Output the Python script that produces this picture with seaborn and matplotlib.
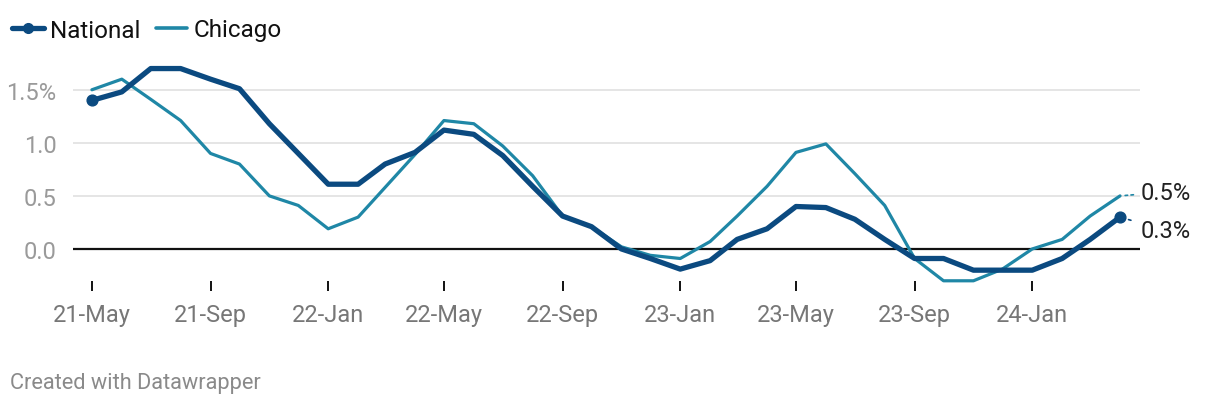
import matplotlib
matplotlib.use("Agg")
import matplotlib.pyplot as plt
import matplotlib.dates as mdates
from matplotlib.lines import Line2D
import seaborn as sns
import pandas as pd
import numpy as np

# monthly change, May 2021 .. Apr 2024
months = pd.date_range("2021-05-01", periods=36, freq="MS")
national = [1.40, 1.48, 1.70, 1.70, 1.60, 1.51, 1.18, 0.90, 0.61, 0.61, 0.80, 0.91,
            1.12, 1.08, 0.88, 0.59, 0.31, 0.21, 0.00, -0.09, -0.19, -0.11, 0.09, 0.19,
            0.40, 0.39, 0.28, 0.09, -0.09, -0.09, -0.20, -0.20, -0.20, -0.09, 0.09, 0.30]
chicago = [1.50, 1.60, 1.41, 1.21, 0.90, 0.80, 0.50, 0.41, 0.19, 0.30, 0.58, 0.89,
           1.21, 1.18, 0.97, 0.69, 0.31, 0.21, 0.02, -0.06, -0.09, 0.07, 0.31, 0.59,
           0.91, 0.99, 0.71, 0.41, -0.09, -0.30, -0.30, -0.19, 0.00, 0.09, 0.31, 0.50]
tick_dates = pd.date_range("2021-05-01", "2024-01-01", freq="4MS")
ytick_vals = [0.0, 0.5, 1.0, 1.5]
ytick_labels = ["0.0", "0.5", "1.0", "1.5%"]

col_nat = "#0b4a80"
col_chi = "#1f87a6"

df = pd.concat([
    pd.DataFrame({"month": months, "value": chicago, "series": "Chicago"}),
    pd.DataFrame({"month": months, "value": national, "series": "National"}),
])

sns.set_style("white")
plt.rcParams["font.family"] = ["Roboto", "DejaVu Sans"]

fig = plt.figure(figsize=(12.2, 4.1), dpi=100)
ax = fig.add_axes([73 / 1220, 1 - 282 / 410, (1140 - 73) / 1220, (282 - 60) / 410])

sns.lineplot(data=df, x="month", y="value", hue="series", size="series",
             palette={"National": col_nat, "Chicago": col_chi},
             sizes={"National": 3.8, "Chicago": 2.3},
             hue_order=["Chicago", "National"], legend=False, ax=ax,
             solid_capstyle="round", solid_joinstyle="round", clip_on=False)
ax.scatter([months[0], months[-1]], [national[0], national[-1]], s=60,
           color=col_nat, zorder=5, clip_on=False)

ax.set_xlim(months[0] - pd.Timedelta(days=19.6), months[-1] + pd.Timedelta(days=20.7))
ax.set_ylim(-0.302, 1.79)

for v in ytick_vals[1:]:
    ax.axhline(v, color="#e3e3e3", lw=1.3, zorder=0)
ax.axhline(0, color="#111111", lw=1.6, zorder=1)

ax.set_yticks(ytick_vals)
ax.set_yticklabels(ytick_labels)
ax.set_xticks(tick_dates)
ax.xaxis.set_major_formatter(mdates.DateFormatter("%y-%b"))
ax.tick_params(axis="y", left=False, length=0, pad=12, labelsize=17, labelcolor="#9a9a9a")
ax.tick_params(axis="x", bottom=True, length=7.5, width=1.4, color="#111111", pad=8,
               labelsize=17, labelcolor="#777777", direction="out")
ax.set_xlabel("")
ax.set_ylabel("")
for s in ax.spines.values():
    s.set_visible(False)
ax.grid(False)

# end labels
ax.annotate("0.5%", xy=(months[-1], chicago[-1]), xytext=(15, 2.8),
            textcoords="offset points", va="center", ha="left", fontsize=17, color="#222222",
            arrowprops=dict(arrowstyle="-", color=col_chi, lw=1.2, linestyle=(0, (1.5, 2)),
                            shrinkA=3, shrinkB=2))
ax.annotate("0.3%", xy=(months[-1], national[-1]), xytext=(15, -9.6),
            textcoords="offset points", va="center", ha="left", fontsize=17, color="#222222",
            arrowprops=dict(arrowstyle="-", color=col_nat, lw=1.2, linestyle=(0, (1.5, 2)),
                            shrinkA=5, shrinkB=2))

handles = [Line2D([], [], color=col_nat, lw=3.8, marker="o", markersize=7, solid_capstyle="round"),
           Line2D([], [], color=col_chi, lw=2.6)]
fig.legend(handles, ["National", "Chicago"], loc="center left",
           bbox_to_anchor=(12 / 1220, 1 - 31 / 410), ncol=2, frameon=False, fontsize=17.5,
           handlelength=1.3, handletextpad=0.25, columnspacing=0.65, labelcolor="#111111",
           borderpad=0, borderaxespad=0)

fig.text(10 / 1220, 1 - 384 / 410, "Created with Datawrapper", fontsize=15.7,
         color="#8a8a8a", va="center", ha="left")

fig.savefig("out.png", dpi=100)
